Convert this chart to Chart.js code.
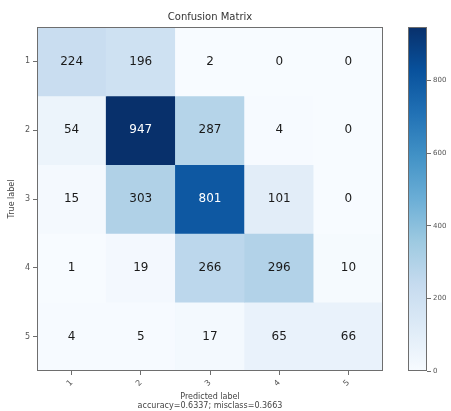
<!DOCTYPE html>
<html>
<head>
<meta charset="utf-8">
<script src="https://cdn.jsdelivr.net/npm/chart.js@4/dist/chart.umd.min.js"></script>
<style>
  html, body { margin: 0; padding: 0; background: #ffffff; }
  #wrap { position: relative; width: 451px; height: 411px; overflow: hidden; }
  #main { position: absolute; left: 0; top: 0; }
  #cbar { position: absolute; left: 395px; top: 0; }
</style>
</head>
<body>
<div id="wrap">
  <canvas id="main" width="451" height="411"></canvas>
  <canvas id="cbar" width="56" height="411"></canvas>
</div>
<script>
// Class labels (rows = true label, columns = predicted label)
const trueLabels = ['1', '2', '3', '4', '5'];
const predLabels = ['1', '2', '3', '4', '5'];

// Confusion matrix counts, one array per true label
const row1 = [224, 196, 2, 0, 0];
const row2 = [54, 947, 287, 4, 0];
const row3 = [15, 303, 801, 101, 0];
const row4 = [1, 19, 266, 296, 10];
const row5 = [4, 5, 17, 65, 66];
const matrix = [row1, row2, row3, row4, row5];

// Colour bar ticks
const colorbarTicks = [0, 200, 400, 600, 800];

const chartTitle = 'Confusion Matrix';
const xTitle = ['Predicted label', 'accuracy=0.6337; misclass=0.3663'];
const yTitle = 'True label';

const FONT = '"DejaVu Sans", "Liberation Sans", sans-serif';
const vmax = Math.max(...matrix.flat());
const thresh = vmax / 2;

// Sequential blue colour map
const BLUES = ['#f7fbff', '#deebf7', '#c6dbef', '#9ecae1', '#6baed6',
               '#4292c6', '#2171b5', '#08519c', '#08306b'];
function hexToRgb(h) {
  return [parseInt(h.slice(1, 3), 16), parseInt(h.slice(3, 5), 16), parseInt(h.slice(5, 7), 16)];
}
function blues(t) {
  t = Math.max(0, Math.min(1, t));
  const pos = t * (BLUES.length - 1);
  const i = Math.min(Math.floor(pos), BLUES.length - 2);
  const f = pos - i;
  const a = hexToRgb(BLUES[i]), b = hexToRgb(BLUES[i + 1]);
  const c = a.map((v, k) => Math.round(v + (b[k] - v) * f));
  return `rgb(${c[0]},${c[1]},${c[2]})`;
}

// Frame around the plotting area
const framePlugin = {
  id: 'frame',
  afterDraw(chart) {
    const { ctx, chartArea: a } = chart;
    ctx.save();
    ctx.strokeStyle = '#6e6e6e';
    ctx.lineWidth = 1;
    ctx.strokeRect(Math.round(a.left) + 0.5, Math.round(a.top) + 0.5,
                   Math.round(a.right - a.left) - 1, Math.round(a.bottom - a.top) - 1);
    ctx.restore();
  }
};

// Count written in the middle of every cell
const cellTextPlugin = {
  id: 'cellText',
  afterDatasetsDraw(chart) {
    const ctx = chart.ctx;
    ctx.save();
    ctx.font = `12px ${FONT}`;
    ctx.textAlign = 'center';
    ctx.textBaseline = 'middle';
    chart.data.datasets.forEach((ds, di) => {
      const meta = chart.getDatasetMeta(di);
      meta.data.forEach((el, ci) => {
        const v = ds.counts[ci];
        ctx.fillStyle = v > thresh ? '#ffffff' : '#1a1a1a';
        ctx.fillText(String(v), el.x, (el.y + el.base) / 2);
      });
    });
    ctx.restore();
  }
};

// Title centred over the matrix
const topTitlePlugin = {
  id: 'topTitle',
  afterDraw(chart) {
    const { ctx, chartArea: a } = chart;
    ctx.save();
    ctx.font = `10px ${FONT}`;
    ctx.fillStyle = '#333333';
    ctx.textAlign = 'center';
    ctx.textBaseline = 'middle';
    ctx.fillText(chartTitle, (a.left + a.right) / 2, 17);
    ctx.restore();
  }
};

const datasets = matrix.map((counts, r) => ({
  label: trueLabels[r],
  counts: counts,
  data: counts.map(() => [r + 0.5, r + 1.5]),
  backgroundColor: counts.map(v => blues(v / vmax)),
  borderWidth: 0,
  grouped: false,
  barPercentage: 1,
  categoryPercentage: 1
}));

new Chart(document.getElementById('main'), {
  type: 'bar',
  data: { labels: predLabels, datasets },
  options: {
    responsive: false,
    animation: false,
    layout: { padding: { left: 0, right: 68, top: 27, bottom: 0 } },
    plugins: { legend: { display: false }, tooltip: { enabled: false }, title: { display: false } },
    scales: {
      x: {
        type: 'category',
        offset: true,
        border: { display: false },
        grid: { display: true, drawOnChartArea: false, drawTicks: true, tickLength: 4, offset: false, color: '#6e6e6e' },
        ticks: { minRotation: 45, maxRotation: 45, padding: 3, color: '#555555', font: { family: FONT, size: 8 } },
        title: { display: true, text: xTitle, color: '#444444', padding: { top: 0, bottom: 0 }, font: { family: FONT, size: 8, lineHeight: 1.15 } },
        afterFit(scale) { scale.height = 40; }
      },
      y: {
        type: 'linear',
        reverse: true,
        min: 0.5,
        max: trueLabels.length + 0.5,
        afterBuildTicks(scale) { scale.ticks = trueLabels.map((_, i) => ({ value: i + 1 })); },
        border: { display: false },
        grid: { display: true, drawOnChartArea: false, drawTicks: true, tickLength: 4, color: '#6e6e6e' },
        ticks: { padding: 3, color: '#555555', font: { family: FONT, size: 8 },
                 callback: (v) => trueLabels[Math.round(v) - 1] },
        title: { display: true, text: yTitle, color: '#444444', padding: { top: 7, bottom: 4 }, font: { family: FONT, size: 8 } },
        afterFit(scale) { scale.width = 37; }
      }
    }
  },
  plugins: [cellTextPlugin, framePlugin, topTitlePlugin]
});

// Colour bar
new Chart(document.getElementById('cbar'), {
  type: 'bar',
  data: {
    labels: [''],
    datasets: [{
      data: [[0, vmax]],
      borderWidth: 0,
      barPercentage: 1,
      categoryPercentage: 1,
      backgroundColor(ctx) {
        const a = ctx.chart.chartArea;
        if (!a) return BLUES[4];
        const g = ctx.chart.ctx.createLinearGradient(0, a.bottom, 0, a.top);
        BLUES.forEach((c, i) => g.addColorStop(i / (BLUES.length - 1), c));
        return g;
      }
    }]
  },
  options: {
    responsive: false,
    animation: false,
    layout: { padding: { left: 13, right: 0, top: 27, bottom: 40 } },
    plugins: { legend: { display: false }, tooltip: { enabled: false } },
    scales: {
      x: { display: false },
      y: {
        position: 'right',
        min: 0,
        max: vmax,
        afterBuildTicks(scale) { scale.ticks = colorbarTicks.map(v => ({ value: v })); },
        border: { display: false },
        grid: { display: true, drawOnChartArea: false, drawTicks: true, tickLength: 4, color: '#6e6e6e' },
        ticks: { padding: 2, color: '#555555', font: { family: FONT, size: 7 } },
        afterFit(scale) { scale.width = 24; }
      }
    }
  },
  plugins: [framePlugin]
});
</script>
</body>
</html>
